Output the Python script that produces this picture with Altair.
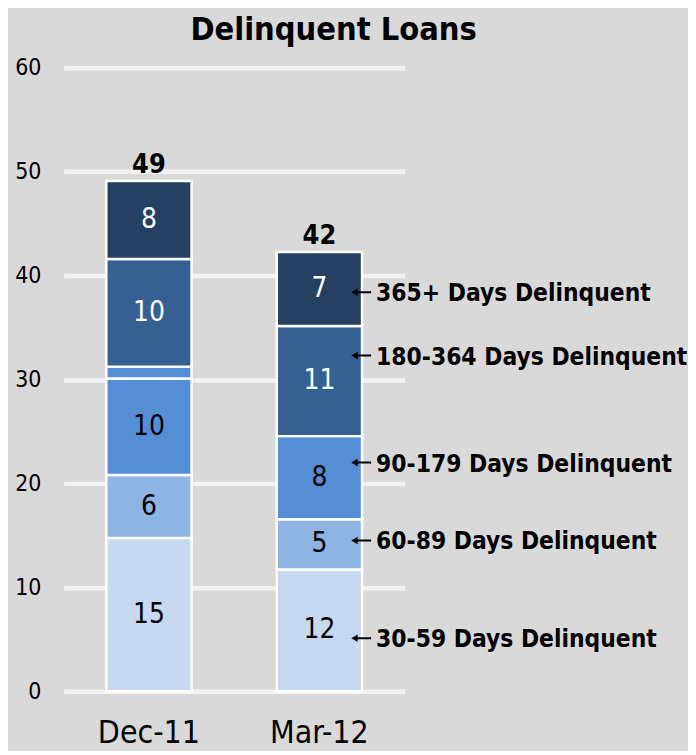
import altair as alt
import pandas as pd

# ---- data ----
cats = ["Dec-11", "Mar-12"]
series_order = ["30-59", "60-89", "90-179", "180-364", "365+"]

dec_series = ["30-59", "60-89", "90-179", "90-179", "180-364", "365+"]
dec_values = [14.74, 6.06, 9.30, 1.14, 10.36, 7.50]
dec_labels = ["15", "6", "10", "", "10", "8"]

mar_series = ["30-59", "60-89", "90-179", "180-364", "365+"]
mar_values = [11.72, 4.82, 8.01, 10.59, 7.13]
mar_labels = ["12", "5", "8", "11", "7"]

annot_cat = "Mar-12"
annot_text = ["30-59 Days Delinquent", "60-89 Days Delinquent", "90-179 Days Delinquent",
              "180-364 Days Delinquent", "365+ Days Delinquent"]
annot_y = [5.1, 14.5, 22.0, 32.3, 38.4]

y_ticks = [0, 10, 20, 30, 40, 50, 60]

# ---- styles ----
series_colors = ["#c6d9f1", "#8eb4e3", "#558ed5", "#376092", "#254061"]
label_colors = ["#000000", "#000000", "#000000", "#ffffff", "#ffffff"]
BG = "#d9d9d9"
FONT = "DejaVu Sans Condensed, DejaVu Sans"

rows = []
for s, v, l in zip(dec_series, dec_values, dec_labels):
    rows.append({"cat": "Dec-11", "series": s, "value": v, "label": l})
for s, v, l in zip(mar_series, mar_values, mar_labels):
    rows.append({"cat": "Mar-12", "series": s, "value": v, "label": l})
for i, r in enumerate(rows):
    r["order"] = i
df = pd.DataFrame(rows)

annot_df = pd.DataFrame({"cat": [annot_cat] * len(annot_text), "y": annot_y, "text": annot_text})

x_enc = alt.X("cat:N", sort=cats,
              scale=alt.Scale(domain=cats, paddingInner=0.5, paddingOuter=0.25),
              axis=alt.Axis(title=None, labelAngle=0, domain=False, ticks=False,
                            labelFont=FONT, labelFontSize=32, labelColor="#000000",
                            labelPadding=27))
y_scale = alt.Scale(domain=[0, 60], nice=False)
y_axis = alt.Axis(title=None, values=y_ticks, domain=False, ticks=False,
                  labelFont=FONT, labelFontSize=23, labelColor="#000000", labelPadding=23,
                  grid=True, gridColor="#f2f2f2", gridWidth=4.5)

base = alt.Chart(df).transform_stack(
    stack="value", groupby=["cat"], sort=[alt.SortField("order", order="ascending")],
    as_=["y0", "y1"]
).transform_calculate(mid="(datum.y0 + datum.y1) / 2")

bars = base.mark_bar(stroke="white", strokeWidth=2.5).encode(
    x=x_enc,
    y=alt.Y("y0:Q", scale=y_scale, axis=y_axis),
    y2="y1:Q",
    color=alt.Color("series:N", scale=alt.Scale(domain=series_order, range=series_colors), legend=None),
)

seg_labels = base.mark_text(font=FONT, fontSize=28).encode(
    x=alt.X("cat:N", sort=cats),
    y=alt.Y("mid:Q"),
    text="label:N",
    color=alt.Color("series:N", scale=alt.Scale(domain=series_order, range=label_colors), legend=None),
)

totals = alt.Chart(df).transform_aggregate(
    total="sum(value)", groupby=["cat"]
).mark_text(font=FONT, fontSize=27, fontWeight="bold", baseline="alphabetic", dy=-8, color="#000000").encode(
    x=alt.X("cat:N", sort=cats),
    y=alt.Y("total:Q"),
    text=alt.Text("total:Q", format=".0f"),
)

arrow_path = ("M -1 0 L -0.35 -0.38 L -0.35 -0.1 L 1 -0.1 L 1 0.1 L -0.35 0.1 L -0.35 0.38 Z")
arrows = alt.Chart(annot_df).mark_point(
    shape=arrow_path, filled=True, color="#000000", size=400, opacity=1, xOffset=42
).encode(x=alt.X("cat:N", sort=cats), y=alt.Y("y:Q"))

annot_labels = alt.Chart(annot_df).mark_text(
    font=FONT, fontSize=24.5, fontWeight="bold", align="left", baseline="middle",
    xOffset=57, dy=2, color="#000000"
).encode(x=alt.X("cat:N", sort=cats), y=alt.Y("y:Q"), text="text:N")

chart = alt.layer(bars, seg_labels, totals, arrows, annot_labels).resolve_scale(
    color="independent"
).properties(
    width=343, height=627,
    background=BG,
    padding={"top": 3, "left": 6, "right": 0, "bottom": 0},
    title=alt.TitleParams("Delinquent Loans", font=FONT, fontSize=32.5, fontWeight="bold",
                          color="#000000", anchor="middle", frame="group", dx=100, offset=11),
).configure_view(stroke=None)

chart.save("out.html", embed_options={"renderer": "svg", "actions": False})
